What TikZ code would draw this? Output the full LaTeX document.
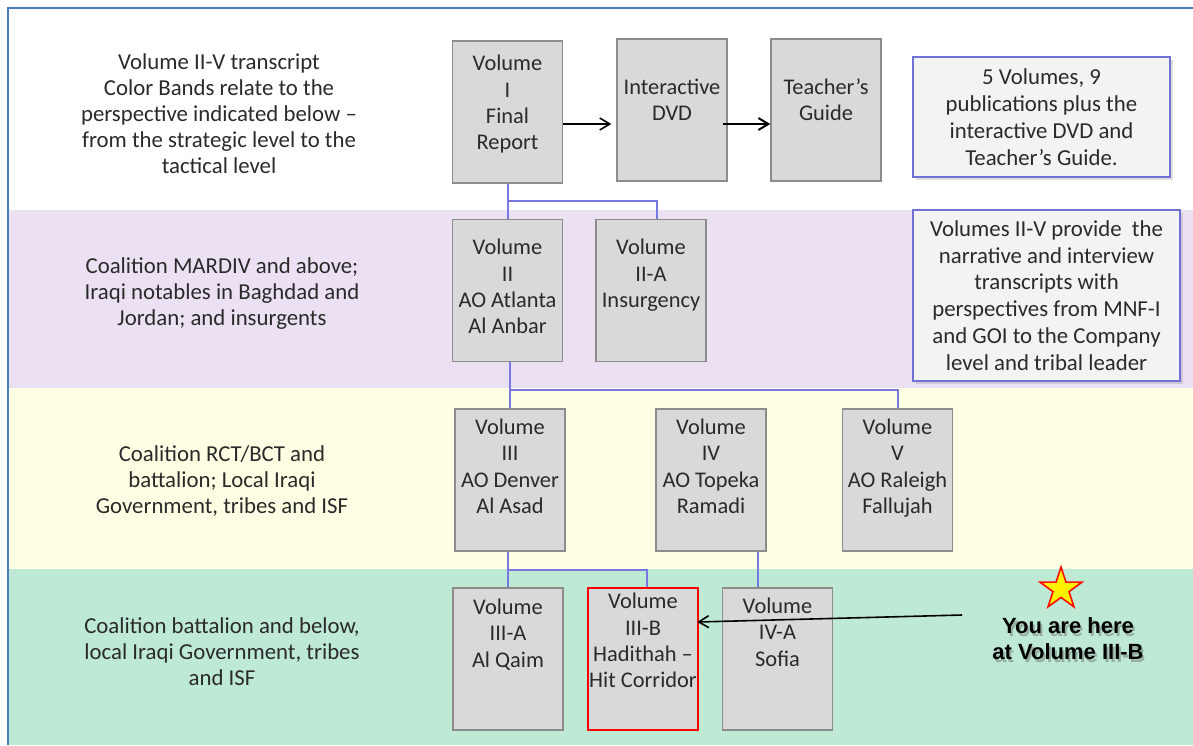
\documentclass[tikz,border=0pt]{standalone}
\usepackage{fontspec}
\setmainfont{Carlito}
\newfontfamily\arialfont{Liberation Sans}
\usetikzlibrary{positioning,shapes.geometric,shadows,arrows.meta}

\definecolor{bandPurple}{HTML}{EBE1F3}
\definecolor{bandYellow}{HTML}{FEFEE4}
\definecolor{bandGreen}{HTML}{BEEAD5}
\definecolor{boxGray}{HTML}{D9D9D9}
\definecolor{boxEdge}{HTML}{8C8C8C}
\definecolor{linkBlue}{HTML}{7878E0}
\definecolor{noteEdge}{HTML}{7171D4}
\definecolor{noteFill}{HTML}{F2F3F2}
\definecolor{frameBlue}{HTML}{4A7EBB}
\definecolor{inkGray}{HTML}{2A2A2A}

\tikzset{
    vol/.style = {draw = boxEdge, fill = boxGray, line width = 0.7pt, minimum width = 55pt, minimum height = 71pt, inner sep = 0pt},
    voltext/.style = {align = center, inner sep = 0pt, text = inkGray, font = \fontsize{11.2}{13.2}\selectfont},
    level/.style = {align = center, inner sep = 0pt, text = inkGray, font = \fontsize{11.4}{13}\selectfont},
    note/.style = {draw = noteEdge, fill = noteFill, line width = 1.2pt, align = center, inner sep = 0pt, text = inkGray,
        font = \fontsize{11.4}{13.4}\selectfont, drop shadow = {shadow xshift = 1.5pt, shadow yshift = -1.5pt, opacity = 0.25}},
    link/.style = {draw = linkBlue, line width = 1pt},
    flow/.style = {draw = black, line width = 0.8pt, -{Straight Barb[length = 5pt, width = 6pt]}},
    heretext/.style = {align = center, inner sep = 0pt, font = \arialfont\bfseries\fontsize{11}{13}\selectfont}
}

\begin{document}
\begin{tikzpicture}[x = 0.5pt, y = -0.5pt]
    \useasboundingbox (0,0) rectangle (1193,745);
    % colour bands and frame
    \fill[bandPurple] (9,210) rectangle (1193,388);
    \fill[bandYellow] (9,388) rectangle (1193,569);
    \fill[bandGreen] (9,569) rectangle (1193,745);
    \draw[frameBlue, line width = 1pt] (8,745) -- (8,8) -- (1193,8);

    % perspective of each band
    \node[level] (lvl0) at (219,114) {Volume II-V transcript\\Color Bands relate to the\\perspective indicated below –\\from the strategic level to the\\tactical level};
    \node[level] (lvl1) at (222,294) {Coalition MARDIV and above;\\Iraqi notables in Baghdad and\\Jordan; and insurgents};
    \node[level] (lvl2) at (222,481) {Coalition RCT/BCT and\\battalion; Local Iraqi\\Government, tribes and ISF};
    \node[level] (lvl3) at (222,652) {Coalition battalion and below,\\local Iraqi Government, tribes\\and ISF};

    % volumes
    \node[vol] (v1) at (507.5,112) {};
    \node[vol] (dvd) at (672,110) {};
    \node[vol] (tg) at (826,110) {};
    \node[vol] (v2) at (507.5,290.5) {};
    \node[vol] (v2a) at (651,290.5) {};
    \node[vol] (v3) at (510,480) {};
    \node[vol] (v4) at (711,480) {};
    \node[vol] (v5) at (897.5,480) {};
    \node[vol] (v3a) at (508,659) {};
    \node[vol, draw = red, line width = 1.2pt] (v3b) at (643,659) {};
    \node[vol] (v4a) at (777.5,659) {};

    \node[voltext, below = 7.2pt of v1.north] (v1t) {Volume\\I\\Final\\Report};
    \node[voltext, below = 20pt of dvd.north] (dvdt) {Interactive\\DVD};
    \node[voltext, below = 20pt of tg.north] (tgt) {Teacher’s\\Guide};
    \node[voltext, below = 10pt of v2.north] (v2t) {Volume\\II\\AO Atlanta\\Al Anbar};
    \node[voltext, below = 10pt of v2a.north] (v2at) {Volume\\II-A\\Insurgency};
    \node[voltext, below = 5pt of v3.north] (v3t) {Volume\\III\\AO Denver\\Al Asad};
    \node[voltext, below = 5pt of v4.north] (v4t) {Volume\\IV\\AO Topeka\\Ramadi};
    \node[voltext, below = 5pt of v5.north] (v5t) {Volume\\V\\AO Raleigh\\Fallujah};
    \node[voltext, below = 5.5pt of v3a.north] (v3at) {Volume\\III-A\\Al Qaim};
    \node[voltext, below = 3pt of v3b.north] (v3bt) {Volume\\III-B\\Hadithah –\\Hit Corridor};
    \node[voltext, below = 5pt of v4a.north] (v4at) {Volume\\IV-A\\Sofia};

    % notes on the right
    \node[note, minimum width = 128.5pt, minimum height = 60pt] (note1) at (1041.5,117) {5 Volumes, 9\\publications plus the\\interactive DVD and\\Teacher’s Guide.};
    \node[note, minimum width = 133.5pt, minimum height = 85.5pt] (note2) at (1046.5,295.5) {Volumes II-V provide\ \ the\\narrative and interview\\transcripts with\\perspectives from MNF-I\\and GOI to the Company\\level and tribal leader};

    % tree links
    \draw[link] (v1.south) -- (v2.north);
    \draw[link] (v1.south |- 0,201) -| ([xshift = 3pt]v2a.north);
    \draw[link] (v3.north) -- (v3.north |- v2.south);
    \draw[link] (v3.north |- 0,390) -| (v5.north);
    \draw[link] (v3a.north) -- (v3a.north |- v3.south);
    \draw[link] (v3a.north |- 0,570) -| ([xshift = 2pt]v3b.north);
    \draw[link] ([xshift = 23.5pt]v4.south) -- ([xshift = 23.5pt]v4.south |- v4a.north);

    % top row arrows
    \draw[flow, shorten > = 2.5pt] ([yshift = -6pt]v1.east) -- ([yshift = -6pt]v1.east -| dvd.west);
    \draw[flow, line width = 1pt] ([xshift = -2.5pt, yshift = -7pt]dvd.east) -- ([yshift = -7pt]dvd.east -| tg.west);

    % you are here
    \node[star, star points = 5, star point ratio = 2.6, minimum size = 22pt, inner sep = 0pt, fill = yellow, draw = red!90!orange, line width = 0.8pt] (youstar) at (1061,589) {};
    \node[heretext, text = black!60, opacity = 0.45] (hereshadow) at (1070,642) {You are here\\at Volume III-B};
    \node[heretext] (here) at (1068,639) {You are here\\at Volume III-B};
    \coordinate (herestart) at (962,615);
    \draw[flow] (herestart) -- ([xshift = -1pt, yshift = 18.5pt]v3b.east);
\end{tikzpicture}
\end{document}
